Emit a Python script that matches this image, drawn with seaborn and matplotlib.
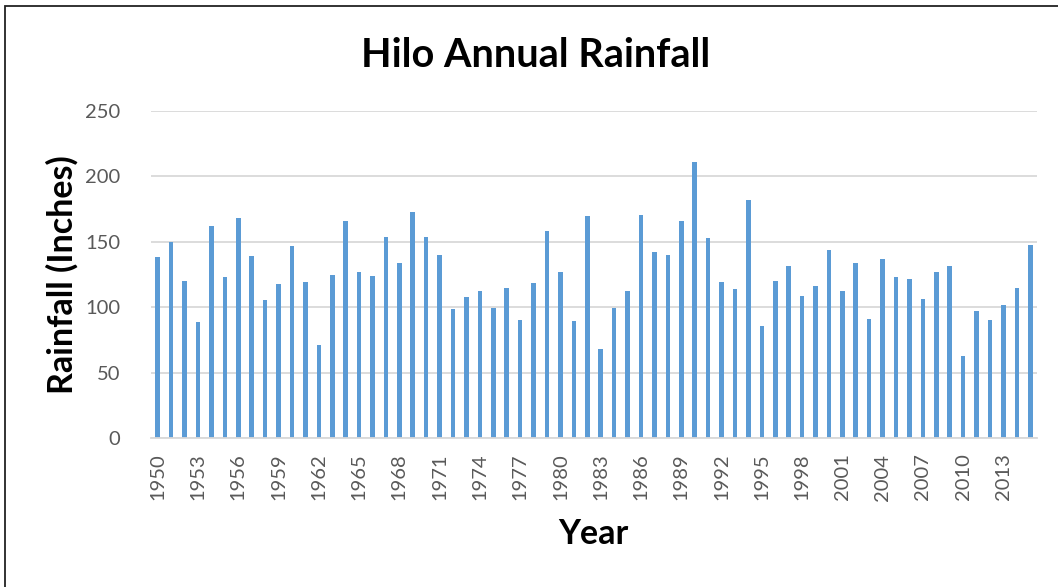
import matplotlib
matplotlib.use("Agg")
import matplotlib.pyplot as plt
from matplotlib.patches import Rectangle
import seaborn as sns
import pandas as pd

years = list(range(1950, 2016))
rainfall = [
    138.6, 149.7, 120.1, 89.1, 161.7, 122.8, 167.8, 138.8, 105.3, 117.5,
    146.4, 119.0, 71.1, 124.4, 166.0, 126.9, 123.6, 153.6, 133.8, 172.8,
    153.6, 140.1, 98.5, 107.6, 112.7, 99.5, 114.5, 90.1, 118.8, 158.4,
    127.2, 89.3, 169.8, 67.8, 99.7, 112.7, 170.6, 141.9, 139.6, 166.0,
    210.7, 152.5, 119.3, 114.2, 182.2, 85.5, 119.8, 131.2, 108.4, 116.2,
    143.4, 112.2, 133.5, 90.9, 137.1, 122.8, 121.6, 106.1, 127.2, 131.2,
    62.7, 97.2, 90.6, 101.8, 115.0, 147.2,
]
y_ticks = [0, 50, 100, 150, 200, 250]
title = "Hilo Annual Rainfall"
x_label = "Year"
y_label = "Rainfall (Inches)"

df = pd.DataFrame({"Year": [str(y) for y in years], "Rainfall": rainfall})

sns.set_theme(style="white")
plt.rcParams["font.family"] = ["Lato", "DejaVu Sans"]

fig = plt.figure(figsize=(10.58, 5.87), dpi=100)
ax = fig.add_axes([151 / 1058, 1 - 438.3 / 587, (1037 - 151) / 1058, (438.3 - 110.7) / 587])

sns.barplot(data=df, x="Year", y="Rainfall", color="#5B9BD5", saturation=1,
            width=0.34, ax=ax, linewidth=0)

ax.set_ylim(0, 250)
ax.set_xlim(-0.5, len(years) - 0.5)
ax.set_yticks(y_ticks)
ax.set_yticklabels([str(t) for t in y_ticks], fontsize=14.5, color="#595959")
ax.yaxis.grid(True, color="#D9D9D9", linewidth=1.3)
ax.set_axisbelow(True)
ax.xaxis.grid(False)

pos = list(range(0, len(years), 3))
ax.set_xticks(pos)
ax.set_xticklabels([str(years[i]) for i in pos], rotation=90, fontsize=14.5,
                   color="#595959")
ax.tick_params(axis="x", length=0, pad=11)
ax.tick_params(axis="y", length=0, pad=22)

for s in ["top", "right", "left"]:
    ax.spines[s].set_visible(False)
ax.spines["bottom"].set_color("#D9D9D9")
ax.spines["bottom"].set_linewidth(1.3)

ax.set_xlabel("")
ax.set_ylabel("")
fig.text(536 / 1058, 1 - 67 / 587, title, ha="center", va="baseline",
         fontsize=28.5, fontweight="bold", color="black")
fig.text(593 / 1058, 1 - 534 / 587, x_label, ha="center", va="center",
         fontsize=24.5, fontweight="bold", color="black")
fig.text(62 / 1058, 1 - 275 / 587, y_label, ha="center", va="center",
         rotation=90, fontsize=24.5, fontweight="bold", color="black")

fig.patches.append(Rectangle((4.5 / 1058, -0.1), 1.2, 1 - 5.5 / 587 + 0.1,
                             transform=fig.transFigure, fill=False,
                             edgecolor="#222222", linewidth=1.3))

fig.savefig("out.png", dpi=100)
